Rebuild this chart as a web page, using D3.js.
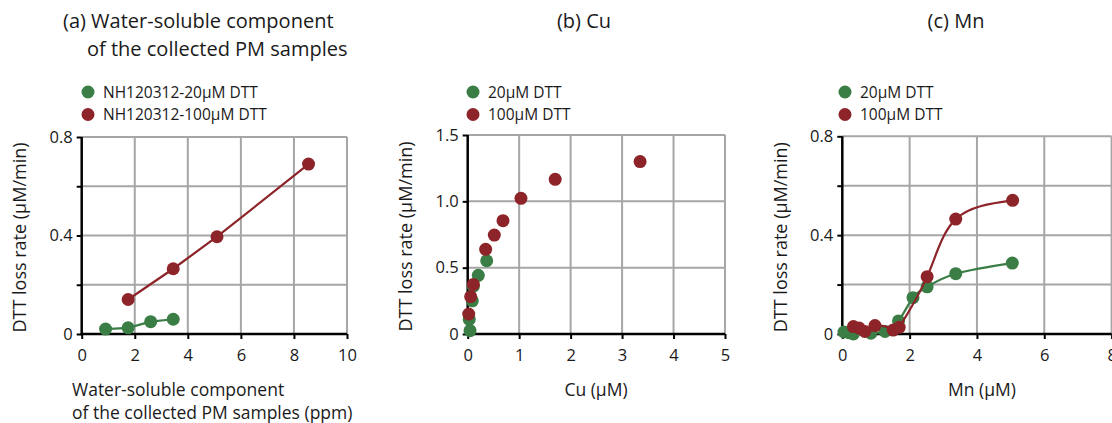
<!DOCTYPE html>
<html>
<head>
<meta charset="utf-8">
<script src="https://cdn.jsdelivr.net/npm/d3@7"></script>
<style>
  body { margin: 0; background: #fff; }
  text { font-family: "Open Sans", sans-serif; fill: #1a1a1a; }
</style>
</head>
<body>
<svg id="chart" width="1112" height="423"></svg>
<script>
// panel (a): water-soluble PM
const pmGreen = [[0.9, 0.02], [1.75, 0.025], [2.6, 0.05], [3.45, 0.06]]
const pmRed = [[1.75, 0.14], [3.45, 0.265], [5.1, 0.395], [8.55, 0.69]]

// panel (b): Cu
const cuGreen = [[0.045, 0.025], [0.03, 0.11], [0.09, 0.25], [0.11, 0.36], [0.206, 0.442], [0.369, 0.552]]
const cuRed = [[0.02, 0.15], [0.058, 0.281], [0.11, 0.374], [0.349, 0.638], [0.517, 0.746], [0.686, 0.854], [1.035, 1.023], [1.70, 1.166], [3.35, 1.30]]

// panel (c): Mn
const mnGreen = [[0.05, 0.008], [0.2, 0.005], [0.33, 0.0], [0.85, 0.003], [1.27, 0.01], [1.67, 0.053], [2.1, 0.147], [2.52, 0.191], [3.37, 0.244], [5.05, 0.287]]
const mnRed = [[0.33, 0.03], [0.5, 0.024], [0.67, 0.01], [0.97, 0.034], [1.51, 0.016], [1.69, 0.027], [2.52, 0.232], [3.37, 0.465], [5.06, 0.541]]

const ticksA = {x: [0, 2, 4, 6, 8, 10], y: [0, 0.2, 0.4, 0.6, 0.8], yLabels: [0, 0.4, 0.8]}
const ticksB = {x: [0, 1, 2, 3, 4, 5], y: [0, 0.5, 1.0, 1.5], yLabels: [0, 0.5, 1.0, 1.5]}
const ticksC = {x: [0, 2, 4, 6, 8], y: [0, 0.2, 0.4, 0.6, 0.8], yLabels: [0, 0.4, 0.8]}

const GREEN = "#3a7d45", RED = "#8c2429", GRID = "#a6a6a6"

const svg = d3.select("#chart")

function panel (opt) {
  const x = d3.scaleLinear().domain(opt.xDomain).range([opt.left, opt.right])
  const y = d3.scaleLinear().domain(opt.yDomain).range([334, opt.top])
  const g = svg.append("g")

  // grid
  g.selectAll(".gx").data(opt.ticks.x.slice(1)).enter().append("line")
    .attr("x1", d => x(d)).attr("x2", d => x(d))
    .attr("y1", y.range()[0]).attr("y2", y.range()[1])
    .attr("stroke", GRID).attr("stroke-width", 2)
  g.selectAll(".gy").data(opt.ticks.y.slice(1)).enter().append("line")
    .attr("y1", d => y(d)).attr("y2", d => y(d))
    .attr("x1", x.range()[0]).attr("x2", x.range()[1])
    .attr("stroke", GRID).attr("stroke-width", 2)

  const yFmt = opt.yFmt
  const yAxis = d3.axisLeft(y).tickValues(opt.ticks.y).tickSize(5).tickPadding(4)
    .tickFormat(d => opt.ticks.yLabels.includes(d) ? yFmt(d) : "")
  const xAxis = d3.axisBottom(x).tickValues(opt.ticks.x).tickSize(5).tickPadding(10)
    .tickFormat(d3.format("d"))

  const ya = g.append("g").attr("transform", `translate(${opt.left},0)`).call(yAxis)
  const xa = g.append("g").attr("transform", "translate(0,334)").call(xAxis)
  for (const a of [ya, xa]) {
    a.select(".domain").attr("stroke", "#000").attr("stroke-width", 2.5)
    a.selectAll(".tick line").attr("stroke", "#000").attr("stroke-width", 2)
    a.selectAll("text").attr("font-size", 16.5).attr("fill", "#1a1a1a")
      .attr("font-family", "Open Sans")
  }
  ya.select(".domain").attr("d", `M0,${y.range()[0] + 1}V${y.range()[1]}`)
  xa.select(".domain").attr("d", `M${x.range()[0] - 1},0H${x.range()[1]}`)

  const line = d3.line().x(d => x(d[0])).y(d => y(d[1])).curve(opt.curve || d3.curveLinear)
  for (const s of opt.series) {
    if (opt.lines) {
      g.append("path").datum(s.data)
        .attr("d", line).attr("fill", "none")
        .attr("stroke", s.color).attr("stroke-width", 2.2)
    }
    g.selectAll(null).data(s.data).enter().append("circle")
      .attr("cx", d => x(d[0])).attr("cy", d => y(d[1]))
      .attr("r", 6.5).attr("fill", s.color)
  }

  // legend
  opt.series.forEach((s, i) => {
    g.append("circle").attr("cx", opt.legendX).attr("cy", 92 + i * 22.5).attr("r", 6.5).attr("fill", s.color)
    g.append("text").attr("x", opt.legendX + 15).attr("y", 97.5 + i * 22.5)
      .attr("font-size", 15.5).text(s.name)
  })

  // y title
  g.append("text")
    .attr("transform", `translate(${opt.yTitleX},${(y.range()[0] + y.range()[1]) / 2 + 2}) rotate(-90)`)
    .attr("text-anchor", "middle").attr("font-size", 18)
    .text("DTT loss rate (µM/min)")
}

panel({
  xDomain: [0, 10], yDomain: [0, 0.8], left: 81.7, right: 347, top: 137,
  ticks: ticksA, yFmt: d => d === 0 ? "0" : d3.format(".1f")(d), lines: true,
  legendX: 88, yTitleX: 26,
  series: [{name: "NH120312-20µM DTT", data: pmGreen, color: GREEN},
           {name: "NH120312-100µM DTT", data: pmRed, color: RED}]
})
panel({
  xDomain: [0, 5], yDomain: [0, 1.5], left: 467.7, right: 725, top: 135,
  ticks: ticksB, yFmt: d => d === 0 ? "0" : d3.format(".1f")(d), lines: false,
  legendX: 473, yTitleX: 412,
  series: [{name: "20µM DTT", data: cuGreen, color: GREEN},
           {name: "100µM DTT", data: cuRed, color: RED}]
})
panel({
  xDomain: [0, 8], yDomain: [0, 0.8], left: 842.3, right: 1111.6, top: 136.3,
  ticks: ticksC, yFmt: d => d === 0 ? "0" : d3.format(".1f")(d), lines: true,
  curve: d3.curveNatural,
  legendX: 845, yTitleX: 787,
  series: [{name: "20µM DTT", data: mnGreen, color: GREEN},
           {name: "100µM DTT", data: mnRed, color: RED}]
})

// titles
svg.append("text").attr("x", 63).attr("y", 28).attr("font-size", 20).text("(a) Water-soluble component")
svg.append("text").attr("x", 87).attr("y", 56).attr("font-size", 20).text("of the collected PM samples")
svg.append("text").attr("x", 584).attr("y", 28).attr("font-size", 20).attr("text-anchor", "middle").text("(b) Cu")
svg.append("text").attr("x", 956).attr("y", 28).attr("font-size", 20).attr("text-anchor", "middle").text("(c) Mn")

// x titles
svg.append("text").attr("x", 72).attr("y", 396).attr("font-size", 17.5).text("Water-soluble component")
svg.append("text").attr("x", 72).attr("y", 419).attr("font-size", 17.5).text("of the collected PM samples (ppm)")
svg.append("text").attr("x", 596).attr("y", 396).attr("font-size", 17.5).attr("text-anchor", "middle").text("Cu (µM)")
svg.append("text").attr("x", 982).attr("y", 396).attr("font-size", 17.5).attr("text-anchor", "middle").text("Mn (µM)")
</script>
</body>
</html>
